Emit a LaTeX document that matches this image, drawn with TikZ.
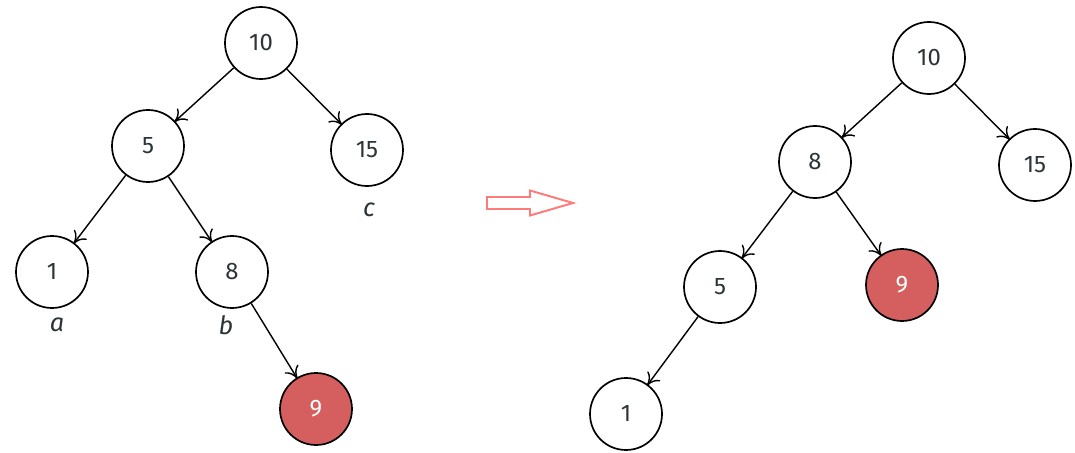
\documentclass[tikz,border=0pt]{standalone}
\usepackage{fontspec}
\setmainfont{Fira Sans}
\usetikzlibrary{arrows.meta, positioning}

\definecolor{txtgray}{HTML}{2B3437}
\definecolor{hotred}{HTML}{D45F5E}
\definecolor{pinkarrow}{HTML}{FF7B7B}

\begin{document}
\begin{tikzpicture}[
   nd/.style={circle, draw=black, line width=1.2pt, minimum size=1.8cm,
              inner sep=0pt, text=txtgray, font=\fontsize{17}{19}\selectfont},
   newnd/.style={nd, fill=hotred, text=white},
   lbl/.style={text=txtgray, font=\fontsize{18}{20}\selectfont\itshape},
   edge/.style={-{To[length=3mm, width=4mm]}, line width=1pt, shorten >=-1pt}]
  \useasboundingbox (0,0) rectangle (26.875,-11.325);
  % before
  \node[nd] (l10) at (6.525,-1.075) {10};
  \node[nd] (l5) at (3.7,-3.65) {5};   \node[nd] (l15) at (9.175,-3.75) {15};
  \node[nd] (l1) at (1.3,-6.8) {1};    \node[nd] (l8) at (5.8,-6.8) {8};
  \node[newnd] (l9) at (7.9,-10.225) {9};
  \node[lbl] (la) at (1.425,-8.125) {a};
  \node[lbl] (lb) at (5.65,-8.125) {b};
  \node[lbl] (lc) at (9.225,-5.25) {c};
  \foreach \s/\t in {l10/l5, l10/l15, l5/l1, l5/l8, l8/l9}
     \draw[edge] (\s) -- (\t);
  % arrow
  \draw[pinkarrow, line width=1.4pt, line join=miter]
     (12.175,-4.925) -- (13.25,-4.925) -- (13.25,-4.7625) -- (14.325,-5.075)
     -- (13.25,-5.3875) -- (13.25,-5.225) -- (12.175,-5.225) -- cycle;
  % after
  \node[nd] (r10) at (23.225,-1.45) {10};
  \node[nd] (r8) at (20.375,-4.05) {8};  \node[nd] (r15) at (25.875,-4.125) {15};
  \node[nd] (r5) at (18.0,-7.175) {5};   \node[newnd] (r9) at (22.55,-7.125) {9};
  \node[nd] (r1) at (15.65,-10.35) {1};
  \foreach \s/\t in {r10/r8, r10/r15, r8/r5, r8/r9, r5/r1}
     \draw[edge] (\s) -- (\t);
\end{tikzpicture}
\end{document}
